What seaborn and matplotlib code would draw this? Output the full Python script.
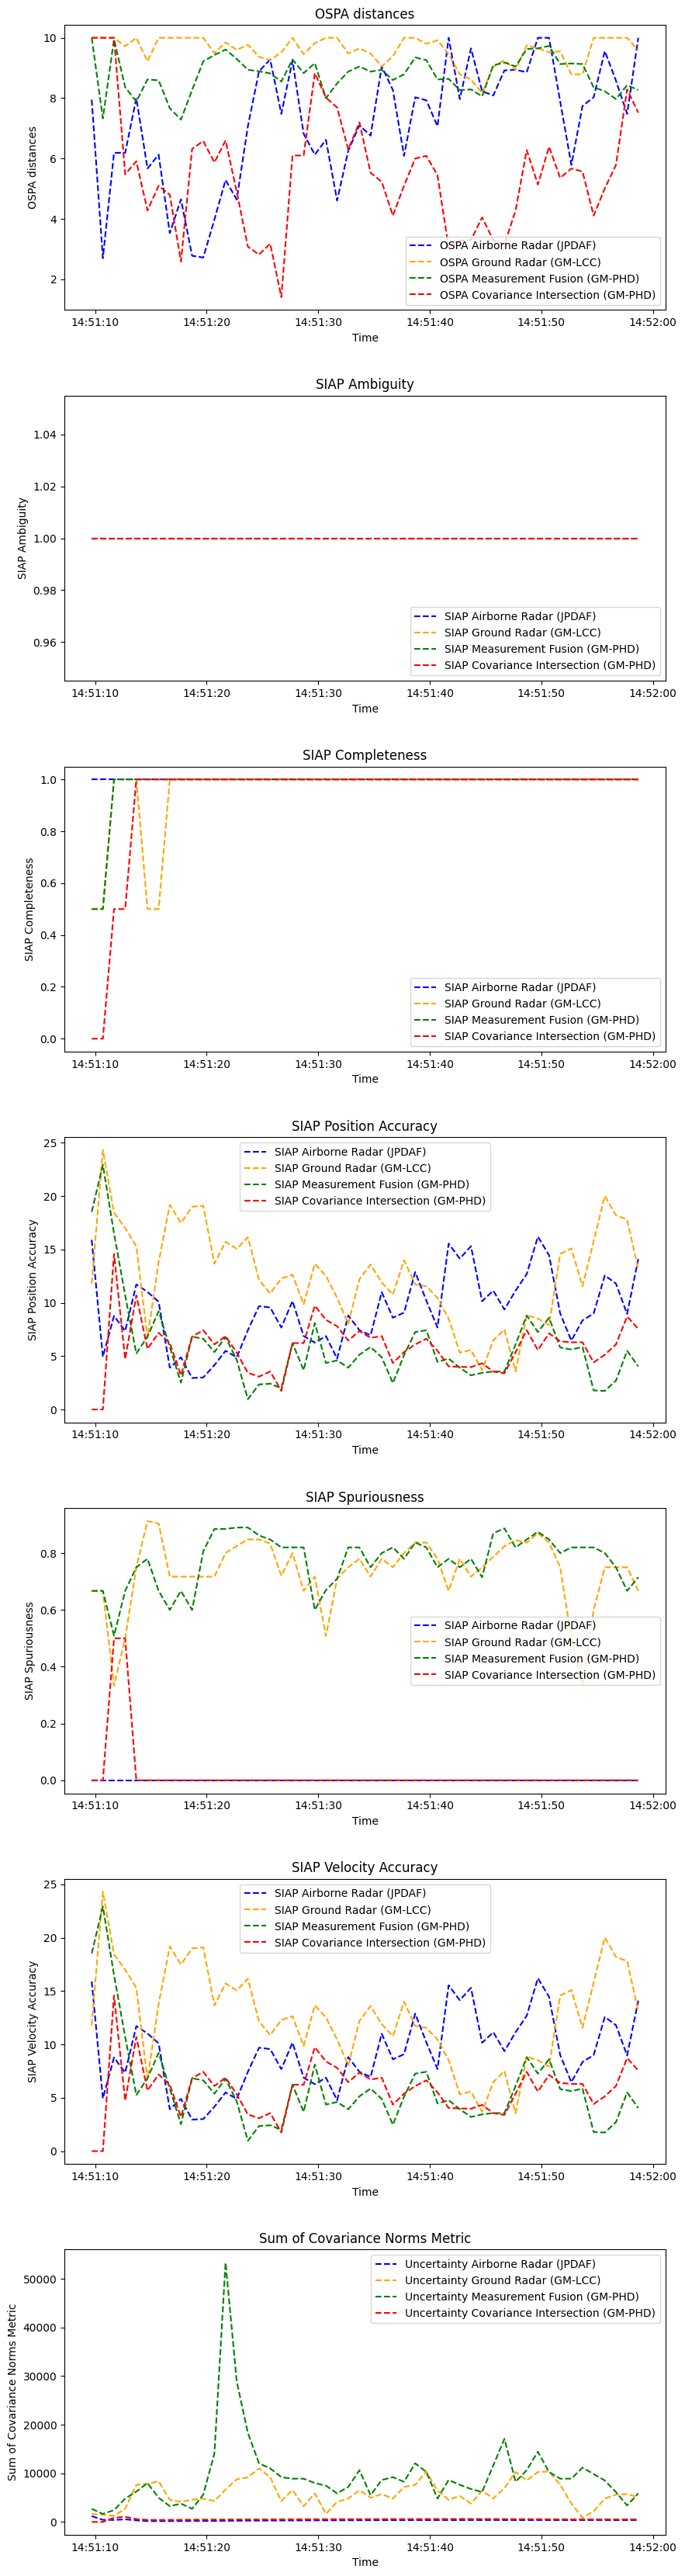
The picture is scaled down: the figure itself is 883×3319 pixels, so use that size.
import numpy as np
import pandas as pd
import matplotlib
matplotlib.use("Agg")
import matplotlib.pyplot as plt
import matplotlib.dates as mdates
import seaborn as sns

# ---------------- data ----------------
n_points = 50
times = pd.date_range("2024-01-01 14:51:09.690", periods=n_points, freq="1s")

sources = ["Airborne Radar (JPDAF)", "Ground Radar (GM-LCC)",
           "Measurement Fusion (GM-PHD)", "Covariance Intersection (GM-PHD)"]
colors = ["blue", "orange", "green", "red"]

ospa_airborne = [7.95, 2.7, 6.19, 6.19, 8.0, 5.67, 6.13, 3.53, 4.65, 2.78,
                 2.72, 3.98, 5.29, 4.64, 7.07, 8.89, 9.28, 7.48, 9.25, 6.82,
                 6.13, 6.62, 4.61, 6.26, 7.1, 6.76, 9.05, 8.27, 6.09, 8.03,
                 7.93, 7.07, 10.0, 7.97, 9.65, 8.23, 8.09, 8.92, 8.94, 8.86,
                 10.0, 10.0, 7.89, 5.79, 7.74, 8.03, 9.56, 8.58, 7.48, 10.0]
ospa_ground = [10.0, 10.0, 10.0, 9.72, 10.0, 9.22, 10.0, 10.0, 10.0, 10.0,
               10.0, 9.49, 9.85, 9.6, 9.77, 9.37, 9.26, 9.52, 10.0, 9.46,
               9.82, 10.0, 10.0, 9.48, 9.65, 9.48, 9.05, 9.39, 10.0, 10.0,
               9.8, 9.92, 9.46, 8.79, 8.62, 8.17, 9.05, 9.26, 8.94, 9.75,
               9.65, 9.52, 9.55, 8.79, 8.79, 10.0, 10.0, 10.0, 10.0, 9.58]
ospa_fusion = [10.0, 7.33, 9.95, 8.36, 7.89, 8.62, 8.59, 7.67, 7.29, 8.27,
               9.22, 9.43, 9.61, 9.3, 8.94, 8.89, 8.82, 8.55, 9.28, 8.83,
               9.16, 8.0, 8.49, 8.88, 9.05, 8.88, 8.94, 8.6, 8.79, 9.35,
               9.26, 8.62, 8.64, 8.27, 8.29, 8.06, 9.09, 9.18, 9.05, 9.63,
               9.65, 9.73, 9.13, 9.15, 9.13, 8.36, 8.23, 7.97, 8.43, 8.27]
ospa_ci = [10.0, 10.0, 10.0, 5.48, 5.91, 4.28, 5.1, 4.8, 2.59, 6.32,
           6.58, 5.87, 6.6, 4.9, 3.08, 2.82, 3.18, 1.41, 6.1, 6.1,
           8.83, 8.02, 7.69, 6.3, 7.2, 5.53, 5.23, 4.11, 5.1, 6.0,
           6.09, 5.45, 3.05, 3.28, 3.3, 4.05, 3.3, 3.15, 4.28, 6.28,
           5.14, 6.39, 5.36, 5.67, 5.57, 4.11, 5.01, 5.79, 8.29, 7.52]

ambiguity_airborne = [1.0] * n_points
ambiguity_ground = [1.0] * n_points
ambiguity_fusion = [1.0] * n_points
ambiguity_ci = [1.0] * n_points

completeness_airborne = [1.0] * n_points
completeness_ground = [0.5, 0.5, 1.0, 1.0, 1.0, 0.5, 0.5] + [1.0] * 43
completeness_fusion = [0.5, 0.5] + [1.0] * 48
completeness_ci = [0.0, 0.0, 0.5, 0.5] + [1.0] * 46

accuracy_airborne = [15.9, 4.94, 8.77, 7.36, 11.72, 11.02, 10.1, 3.92, 4.89, 2.95,
                     3.0, 4.16, 5.5, 4.89, 7.43, 9.69, 9.56, 7.68, 10.17, 6.88,
                     6.27, 6.88, 4.77, 8.81, 7.43, 6.95, 11.0, 8.6, 9.08, 12.88,
                     10.2, 7.68, 15.54, 14.14, 15.3, 10.15, 11.14, 9.37, 11.14, 12.69,
                     16.2, 14.46, 9.0, 6.46, 8.35, 9.0, 12.57, 11.8, 8.96, 14.1]
accuracy_ground = [11.8, 24.3, 18.45, 17.0, 15.3, 6.7, 13.8, 19.18, 17.48, 19.0,
                   19.1, 13.66, 15.71, 15.06, 16.15, 12.15, 10.87, 12.28, 12.64, 9.85,
                   13.66, 12.52, 10.46, 8.04, 12.2, 13.6, 11.9, 10.77, 14.0, 11.72,
                   11.55, 10.46, 8.52, 5.33, 5.57, 3.68, 6.46, 7.5, 3.56, 8.84,
                   8.52, 7.92, 14.58, 15.1, 11.55, 15.79, 20.02, 18.2, 17.8, 13.12]
accuracy_fusion = [18.52, 22.93, 16.5, 10.7, 5.25, 6.83, 9.2, 5.86, 2.52, 6.83,
                   6.63, 5.38, 6.78, 4.65, 0.97, 2.35, 2.42, 1.99, 6.22, 3.68,
                   8.11, 4.36, 4.6, 3.92, 5.13, 5.86, 4.89, 2.47, 5.1, 7.26,
                   7.43, 4.46, 4.77, 3.92, 3.2, 3.44, 3.56, 3.56, 6.1, 8.81,
                   7.26, 8.6, 5.81, 5.62, 5.86, 1.79, 1.74, 2.71, 5.5, 4.04]
accuracy_ci = [0.0, 0.0, 14.58, 4.72, 10.7, 5.67, 7.19, 6.22, 3.2, 6.83,
               7.43, 6.1, 6.88, 5.33, 3.44, 3.08, 3.56, 1.74, 6.22, 6.22,
               9.73, 8.4, 7.8, 6.46, 7.36, 6.71, 6.88, 4.36, 5.38, 6.1,
               6.63, 5.5, 4.04, 4.0, 3.97, 4.33, 3.56, 3.39, 5.38, 7.43,
               5.57, 7.14, 6.39, 6.3, 6.3, 4.41, 5.13, 6.1, 8.72, 7.55]

spurious_airborne = [0.0] * n_points
spurious_ground = [0.667, 0.667, 0.333, 0.5, 0.75, 0.913, 0.904, 0.717, 0.717, 0.717,
                   0.717, 0.717, 0.8, 0.825, 0.848, 0.848, 0.833, 0.72, 0.8, 0.667,
                   0.717, 0.508, 0.71, 0.75, 0.78, 0.717, 0.78, 0.75, 0.8, 0.837,
                   0.837, 0.78, 0.667, 0.78, 0.717, 0.75, 0.787, 0.824, 0.846, 0.837,
                   0.87, 0.837, 0.75, 0.5, 0.333, 0.6, 0.75, 0.75, 0.75, 0.667]
spurious_fusion = [0.667, 0.667, 0.509, 0.667, 0.75, 0.78, 0.667, 0.6, 0.667, 0.6,
                   0.806, 0.885, 0.885, 0.89, 0.89, 0.862, 0.848, 0.82, 0.82, 0.82,
                   0.6, 0.67, 0.71, 0.82, 0.82, 0.75, 0.8, 0.82, 0.78, 0.837,
                   0.82, 0.75, 0.78, 0.75, 0.78, 0.715, 0.87, 0.887, 0.82, 0.848,
                   0.875, 0.848, 0.8, 0.82, 0.82, 0.82, 0.8, 0.75, 0.667, 0.715]
spurious_ci = [0.0, 0.0, 0.5, 0.5] + [0.0] * 46

velocity_airborne = list(accuracy_airborne)
velocity_ground = list(accuracy_ground)
velocity_fusion = list(accuracy_fusion)
velocity_ci = list(accuracy_ci)

norms_airborne = [1200, 420, 400, 530, 320, 170, 160, 170, 180, 190,
                  200, 220, 230, 240, 260, 270, 280, 300, 300, 310,
                  320, 320, 330, 330, 340, 350, 350, 360, 360, 370,
                  370, 370, 380, 380, 380, 380, 390, 380, 380, 370,
                  380, 380, 370, 370, 380, 380, 380, 370, 380, 380]
norms_ground = [1640, 1480, 1270, 2700, 7620, 7830, 8360, 4550, 4130, 4550,
                4800, 4290, 6670, 8780, 9150, 11000, 9200, 4290, 6560, 3230,
                5870, 1640, 4130, 4800, 6510, 4970, 5710, 4800, 7200, 7620,
                10370, 6400, 4550, 5340, 3760, 6400, 4800, 6930, 10260, 8520,
                10260, 10370, 7620, 3760, 850, 2170, 4800, 5610, 5710, 5080]
norms_fusion = [2700, 1640, 2430, 4800, 6240, 7990, 4970, 3230, 3760, 2700,
                5610, 14070, 53330, 28890, 18300, 12060, 11000, 9200, 8890, 8890,
                7990, 7460, 5870, 7200, 10630, 5500, 8620, 9200, 8250, 12060,
                10260, 4800, 8620, 7620, 6770, 6140, 11600, 17090, 8250, 10630,
                14440, 10260, 8890, 8890, 11160, 9840, 8520, 6140, 3390, 5870]
norms_ci = [0, 0, 850, 1060, 580, 420, 400, 420, 430, 450,
            460, 470, 480, 490, 500, 510, 520, 530, 540, 540,
            550, 550, 560, 560, 560, 570, 570, 580, 580, 580,
            590, 590, 590, 600, 600, 590, 590, 580, 570, 560,
            550, 540, 530, 520, 510, 520, 530, 520, 520, 520]

panels = [
    ("OSPA distances", "OSPA distances", "OSPA",
     [ospa_airborne, ospa_ground, ospa_fusion, ospa_ci], "lower right"),
    ("SIAP Ambiguity", "SIAP Ambiguity", "SIAP",
     [ambiguity_airborne, ambiguity_ground, ambiguity_fusion, ambiguity_ci], "lower right"),
    ("SIAP Completeness", "SIAP Completeness", "SIAP",
     [completeness_airborne, completeness_ground, completeness_fusion, completeness_ci], "lower right"),
    ("SIAP Position Accuracy", "SIAP Position Accuracy", "SIAP",
     [accuracy_airborne, accuracy_ground, accuracy_fusion, accuracy_ci], "upper center"),
    ("SIAP Spuriousness", "SIAP Spuriousness", "SIAP",
     [spurious_airborne, spurious_ground, spurious_fusion, spurious_ci], "center right"),
    ("SIAP Velocity Accuracy", "SIAP Velocity Accuracy", "SIAP",
     [velocity_airborne, velocity_ground, velocity_fusion, velocity_ci], "upper center"),
    ("Sum of Covariance Norms Metric", "Sum of Covariance Norms Metric", "Uncertainty",
     [norms_airborne, norms_ground, norms_fusion, norms_ci], "upper right"),
]

# ---------------- plot ----------------
plt.rcParams["font.family"] = ["DejaVu Sans"]
fig, axes = plt.subplots(7, 1, figsize=(8.83, 33.19), dpi=100)
fig.subplots_adjust(left=83 / 883, right=858 / 883,
                    top=1 - 32 / 3319, bottom=1 - 3266 / 3319, hspace=0.3)

for ax, (title, ylabel, prefix, series, loc) in zip(axes, panels):
    for vals, src, col in zip(series, sources, colors):
        sns.lineplot(x=times, y=vals, ax=ax, color=col, linestyle="--",
                     label=f"{prefix} {src}")
    ax.set_title(title, fontsize=12)
    ax.set_xlabel("Time")
    ax.set_ylabel(ylabel)
    ax.xaxis.set_major_locator(mdates.SecondLocator(bysecond=range(0, 60, 10)))
    ax.xaxis.set_major_formatter(mdates.DateFormatter("%H:%M:%S"))
    ax.legend(loc=loc)

fig.savefig("out.png", dpi=100)
